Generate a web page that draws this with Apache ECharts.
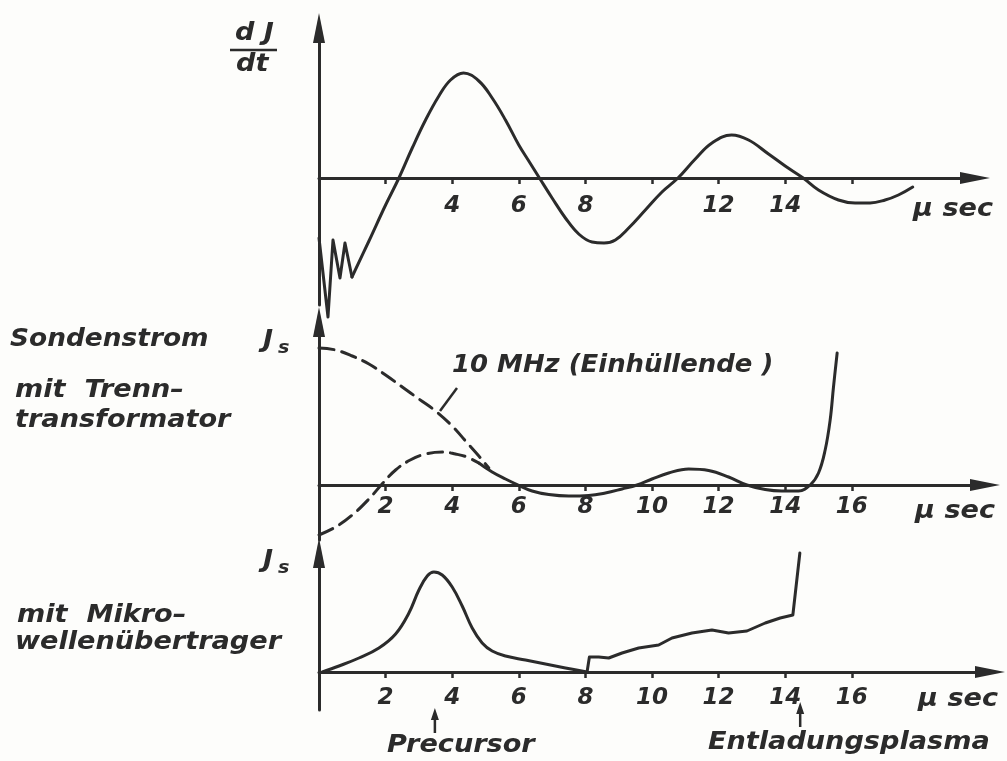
<!DOCTYPE html>
<html>
<head>
<meta charset="utf-8">
<script src="https://cdn.jsdelivr.net/npm/echarts@6/dist/echarts.min.js"></script>
<style>
html, body { margin: 0; padding: 0; background: #fdfdfb; }
#main { width: 1007px; height: 761px; }
</style>
</head>
<body>
<div id="main"></div>
<script>
// time axis in microseconds, all curves
const tickValues = [2, 4, 6, 8, 10, 12, 14, 16];
const topTickLabels = [4, 6, 8, 12, 14];
const lowerTickLabels = [2, 4, 6, 8, 10, 12, 14, 16];

// panel 1: dJ/dt
const dJdtRinging = [[0, -6.0], [0.27, -13.9], [0.42, -6.2], [0.63, -10.0], [0.78, -6.5], [0.99, -9.9]];
const dJdtWave = [[0.99, -9.9], [1.5, -6.3], [2.0, -2.7], [2.4, 0], [2.8, 3.0], [3.2, 5.8], [3.6, 8.2],
  [3.95, 9.8], [4.34, 10.5], [4.8, 9.7], [5.2, 8.0], [5.6, 5.8], [6.0, 3.3], [6.3, 1.7], [6.62, 0],
  [7.0, -2.0], [7.4, -4.0], [7.8, -5.6], [8.2, -6.4], [8.56, -6.5], [8.9, -6.2], [9.3, -5.0], [9.8, -3.2],
  [10.3, -1.4], [10.78, 0], [11.3, 1.9], [11.8, 3.5], [12.39, 4.3], [12.9, 3.8], [13.5, 2.4], [14.0, 1.2],
  [14.54, 0], [15.0, -1.2], [15.6, -2.2], [16.1, -2.5], [16.55, -2.5], [17.0, -2.2], [17.4, -1.7], [17.83, -0.9]];

// panel 2: Sondenstrom mit Trenntransformator
const envelopeUpper = [[0, 13.7], [0.5, 13.5], [1.0, 12.9], [1.5, 12.1], [2.0, 11.0], [2.5, 9.8], [3.0, 8.6],
  [3.5, 7.4], [4.0, 5.9], [4.4, 4.4], [4.8, 2.9], [5.1, 1.7]];
const envelopeLower = [[0, -5.0], [0.5, -4.2], [1.0, -3.0], [1.5, -1.4], [1.92, 0.2], [2.3, 1.5], [2.74, 2.5],
  [3.2, 3.1], [3.72, 3.3], [4.1, 3.1], [4.44, 2.8], [4.8, 2.2]];
const transformerSignal = [[4.8, 2.2], [5.2, 1.3], [5.6, 0.6], [5.98, 0], [6.4, -0.6], [6.9, -0.95], [7.5, -1.1],
  [8.1, -1.05], [8.6, -0.8], [9.1, -0.4], [9.55, 0], [10.0, 0.6], [10.5, 1.2], [11.1, 1.6], [11.7, 1.45],
  [12.3, 0.8], [12.85, 0], [13.4, -0.45], [13.9, -0.6], [14.4, -0.6], [14.75, 0], [15.0, 1.2], [15.2, 3.5],
  [15.35, 6.5], [15.45, 9.8], [15.56, 13.2]];

// panel 3: mit Mikrowellenuebertrager
const precursorPulse = [[0.1, 0], [0.6, 0.6], [1.2, 1.4], [1.8, 2.4], [2.3, 3.8], [2.7, 5.9], [3.0, 8.2],
  [3.25, 9.6], [3.45, 10.0], [3.7, 9.7], [4.0, 8.5], [4.3, 6.6], [4.6, 4.4], [4.9, 2.9], [5.2, 2.1],
  [5.6, 1.6], [6.2, 1.2], [6.8, 0.8], [7.4, 0.4], [8.05, 0]];
const plasmaSignal = [[8.05, 0], [8.12, 1.5], [8.4, 1.5], [8.7, 1.4], [9.1, 1.9], [9.6, 2.4], [10.2, 2.7],
  [10.6, 3.4], [11.2, 3.9], [11.8, 4.2], [12.3, 3.9], [12.85, 4.1], [13.4, 4.9], [13.85, 5.4], [14.23, 5.7],
  [14.44, 11.9]];

const precursorAt = 3.48;
const plasmaAt = 14.45;

const ink = '#2b2b2b';
const font = '"DejaVu Sans", sans-serif';

// offset pulls the bottom axis up to the zero line of its panel
function xAx(grid, max, labels, margin, offset) {
  return {
    type: 'value', gridIndex: grid, min: 0, max: max, position: 'bottom', offset: offset,
    axisLine: { onZero: false, lineStyle: { color: ink, width: 3 }, symbol: ['none', 'triangle'], symbolSize: [12, 30] },
    axisTick: { show: true, customValues: tickValues, length: 6, lineStyle: { color: ink, width: 2.5 } },
    axisLabel: { customValues: labels, color: ink, fontSize: 23, fontStyle: 'italic', fontWeight: 'bold', fontFamily: font, margin: margin },
    splitLine: { show: false }
  };
}
function yAx(grid, min, max) {
  return {
    type: 'value', gridIndex: grid, min: min, max: max,
    axisLine: { show: true, lineStyle: { color: ink, width: 3 }, symbol: ['none', 'triangle'], symbolSize: [12, 30] },
    axisTick: { show: false }, axisLabel: { show: false }, splitLine: { show: false }
  };
}
function curve(idx, data, smooth, dashed) {
  return {
    type: 'line', xAxisIndex: idx, yAxisIndex: idx, data: data, symbol: 'none',
    smooth: smooth, clip: false, silent: true,
    lineStyle: { color: ink, width: 3, type: dashed ? [15, 8] : 'solid', cap: 'round', join: 'round' }
  };
}

var myChart = echarts.init(document.getElementById('main'));
var option = {
  backgroundColor: '#fdfdfb',
  animation: false,
  grid: [
    { left: 319, top: 28, width: 656, height: 277, outerBoundsMode: 'none' },
    { left: 319, top: 322, width: 666, height: 218, outerBoundsMode: 'none' },
    { left: 319, top: 553, width: 671, height: 157, outerBoundsMode: 'none' }
  ],
  xAxis: [
    xAx(0, 19.7, topTickLabels, 17, -127),
    xAx(1, 20.0, lowerTickLabels, 11, -55),
    xAx(2, 20.15, lowerTickLabels, 15, -38)
  ],
  yAxis: [yAx(0, -12.7, 15.0), yAx(1, -5.5, 16.3), yAx(2, -3.8, 11.9)],
  series: [
    curve(0, dJdtRinging, false, false),
    curve(0, dJdtWave, 0.4, false),
    curve(1, envelopeUpper, 0.4, true),
    curve(1, envelopeLower, 0.4, true),
    curve(1, transformerSignal, 0.4, false),
    curve(2, precursorPulse, 0.4, false),
    curve(2, plasmaSignal, false, false)
  ]
};
myChart.setOption(option);

function txt(s, x, y, size, sx) {
  return {
    type: 'text', x: x, y: y, scaleX: sx || 1.13, silent: true,
    style: { text: s, fill: ink, font: 'italic bold ' + size + 'px ' + font, textAlign: 'left', textVerticalAlign: 'middle', align: 'left', verticalAlign: 'middle' }
  };
}
function upArrow(x, yTip, yTail) {
  return [
    { type: 'line', silent: true, shape: { x1: x, y1: yTail, x2: x, y2: yTip + 6 }, style: { stroke: ink, lineWidth: 2.5 } },
    { type: 'polygon', silent: true, shape: { points: [[x, yTip], [x - 4, yTip + 12], [x + 4, yTip + 12]] }, style: { fill: ink } }
  ];
}

var px1 = myChart.convertToPixel({ xAxisIndex: 2 }, precursorAt);
var px2 = myChart.convertToPixel({ xAxisIndex: 2 }, plasmaAt);

var graphics = [
  txt('d J', 235, 34, 24),
  { type: 'line', silent: true, shape: { x1: 230, y1: 50, x2: 277, y2: 50 }, style: { stroke: ink, lineWidth: 2.5 } },
  txt('dt', 236, 65, 24),
  txt('μ sec', 913, 210, 24),
  txt('μ sec', 915, 512, 24),
  txt('μ sec', 918, 700, 24),
  txt('Sondenstrom', 10, 340, 24, 1.1),
  txt('J', 263, 341, 24),
  txt('s', 278, 349, 17),
  txt('mit  Trenn–', 15, 391, 24),
  txt('transformator', 15, 421, 24),
  txt('10 MHz (Einhüllende )', 452, 366, 24, 1.08),
  { type: 'line', silent: true, shape: { x1: 457, y1: 388, x2: 440, y2: 411 }, style: { stroke: ink, lineWidth: 2.5 } },
  txt('J', 263, 561, 24),
  txt('s', 278, 569, 17),
  txt('mit  Mikro–', 17, 616, 24),
  txt('wellenübertrager', 15, 643, 24),
  txt('Precursor', 387, 746, 24),
  txt('Entladungsplasma', 708, 743, 24)
].concat(upArrow(px1, 708, 733), upArrow(px2, 702, 727));

myChart.setOption({ graphic: graphics });
</script>
</body>
</html>
